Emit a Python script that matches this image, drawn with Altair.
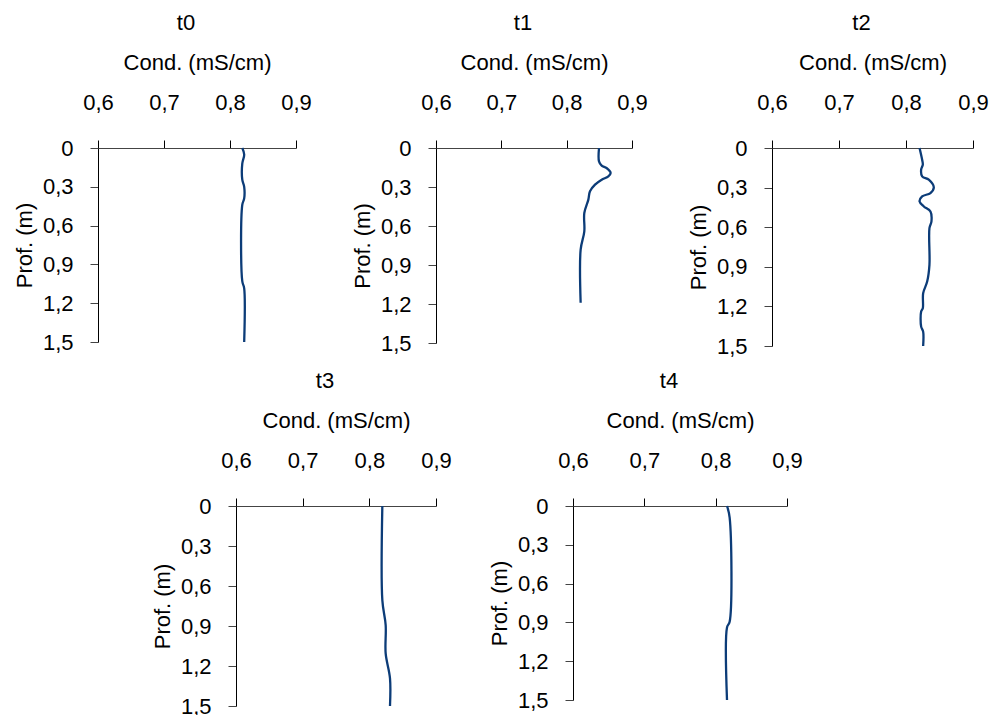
import altair as alt
import pandas as pd

# ---- data ----
t0_cond = [0.8186, 0.8215, 0.8186, 0.8186, 0.8215, 0.8215, 0.8186, 0.8186, 0.8215, 0.8215]
t0_depth = [0.0, 0.05, 0.12, 0.245, 0.30, 0.39, 0.44, 1.03, 1.085, 1.5]

t1_cond = [0.8495, 0.8495, 0.8536, 0.8610, 0.8673, 0.8638, 0.8536, 0.8434, 0.8357, 0.8332, 0.8270, 0.8270, 0.8214, 0.8214]
t1_depth = [0.0, 0.103, 0.136, 0.154, 0.192, 0.218, 0.244, 0.282, 0.333, 0.397, 0.50, 0.641, 0.782, 1.19]

t2_cond = [0.8202, 0.8241, 0.8251, 0.8226, 0.8241, 0.8340, 0.8415, 0.8365, 0.8241, 0.8202, 0.8266,
           0.8365, 0.8380, 0.8350, 0.8350, 0.8316, 0.8256, 0.8251, 0.8226, 0.8226, 0.8256, 0.8256]
t2_depth = [0.0, 0.089, 0.126, 0.164, 0.215, 0.240, 0.298, 0.341, 0.367, 0.405, 0.443,
            0.481, 0.556, 0.607, 0.885, 1.012, 1.100, 1.214, 1.239, 1.353, 1.391, 1.5]

t3_cond = [0.8195, 0.8195, 0.8245, 0.8245, 0.8310, 0.8310]
t3_depth = [0.0, 0.706, 0.893, 1.106, 1.293, 1.5]

t4_cond = [0.8159, 0.8196, 0.8196, 0.8159, 0.8159]
t4_depth = [0.0, 0.09, 0.895, 0.939, 1.5]

panel_names = ["t0", "t1", "t2", "t3", "t4"]
x_ticks = [0.6, 0.7, 0.8, 0.9]
y_ticks = [0.0, 0.3, 0.6, 0.9, 1.2, 1.5]

series = [t0_cond, t1_cond, t2_cond, t3_cond, t4_cond]
depths = [t0_depth, t1_depth, t2_depth, t3_depth, t4_depth]

rows = []
for name, cs, ds in zip(panel_names, series, depths):
    for i, (c, d) in enumerate(zip(cs, ds)):
        rows.append({"panel": name, "order": i, "cond": c, "depth": d})
df = pd.DataFrame(rows)

FONT = "Liberation Sans"
FS = 22
LINE = "#0c3c78"


def panel(name, w, h):
    return (
        alt.Chart(df)
        .transform_filter(alt.datum.panel == name)
        .mark_line(color=LINE, strokeWidth=2.3, interpolate="catmull-rom")
        .encode(
            x=alt.X(
                "cond:Q",
                scale=alt.Scale(domain=[0.6, 0.9], nice=False, zero=False),
                axis=alt.Axis(
                    orient="top", values=x_ticks, title="Cond. (mS/cm)",
                    labelExpr="replace(format(datum.value, '.1f'), '.', ',')",
                    tickSize=8, labelPadding=26, titlePadding=17, grid=False,
                    labelFlush=False, labelOverlap=False,
                    domainColor="#444", tickColor="#000",
                ),
            ),
            y=alt.Y(
                "depth:Q",
                scale=alt.Scale(domain=[0, 1.5], reverse=True, nice=False, zero=False),
                axis=alt.Axis(
                    values=y_ticks, title="Prof. (m)",
                    labelExpr="datum.value == 0 ? '0' : replace(format(datum.value, '.1f'), '.', ',')",
                    tickSize=8, labelPadding=17, titlePadding=6, grid=False,
                    labelFlush=False, labelOverlap=False,
                    domainColor="#000", tickColor="#444",
                ),
            ),
            order="order:Q",
        )
        .properties(
            width=w, height=h,
            view=alt.ViewBackground(stroke="transparent", strokeWidth=0),
            title=alt.TitleParams(name, dx=-11, offset=16, fontSize=FS, fontWeight="normal",
                                  font=FONT, color="#000", frame="group", anchor="middle"),
        )
    )


spacer = (
    alt.Chart(df)
    .mark_point(opacity=0)
    .encode(x=alt.value(0), y=alt.value(0))
    .properties(width=1, height=1, view=alt.ViewBackground(stroke="transparent", strokeWidth=0))
)

top = alt.hconcat(panel("t0", 198, 194), panel("t1", 196, 195), panel("t2", 201, 198),
                  spacing=140, bounds="flush")
bottom = alt.hconcat(spacer, panel("t3", 200, 200), panel("t4", 214, 194),
                     spacing=137, bounds="flush")

chart = (
    alt.vconcat(top, bottom, spacing=358, bounds="flush")
    .properties(padding={"left": 13, "top": 12, "right": 5, "bottom": 5})
    .configure_view(strokeWidth=0, stroke="transparent")
    .configure(font=FONT)
    .configure_axis(
        labelFont=FONT, titleFont=FONT, labelFontSize=FS, titleFontSize=FS,
        labelColor="#000", titleColor="#000", titleFontWeight="normal",
        domainWidth=1, tickWidth=1,
    )
)

chart.save("out.html", embed_options={"renderer": "svg", "actions": False})
